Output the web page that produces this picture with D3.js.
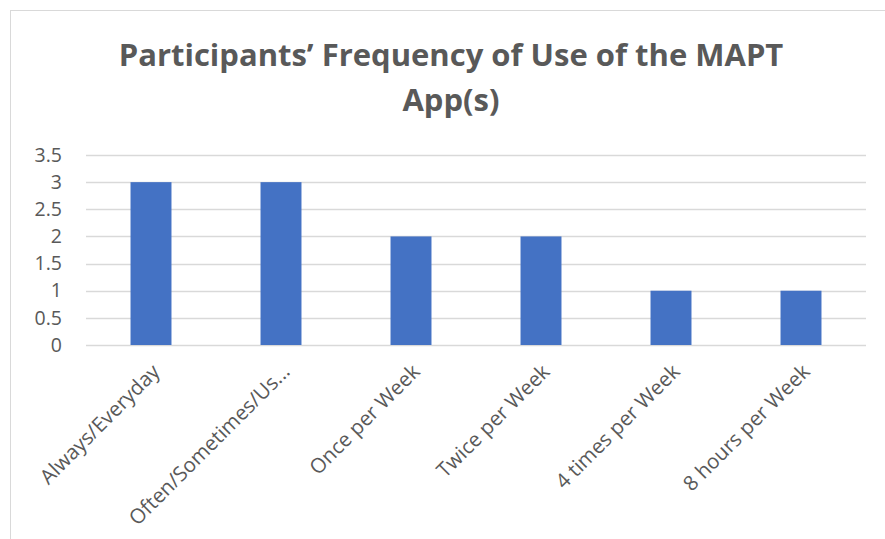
<!DOCTYPE html>
<html>
<head>
<meta charset="utf-8">
<script src="https://cdn.jsdelivr.net/npm/d3@7/dist/d3.min.js"></script>
<style>
  html, body { margin: 0; padding: 0; background: #fff; }
  svg { display: block; }
</style>
</head>
<body>
<svg id="chart" width="885" height="539"></svg>
<script>
// Frequency-of-use survey responses
const categories = ["Always/Everyday", "Often/Sometimes/Us...", "Once per Week", "Twice per Week", "4 times per Week", "8 hours per Week"];
const counts = [3, 3, 2, 2, 1, 1];
const yTicks = [0, 0.5, 1, 1.5, 2, 2.5, 3, 3.5];
const titleLines = ["Participants\u2019 Frequency of Use of the MAPT", "App(s)"];

const svg = d3.select("#chart");
const font = "'Open Sans', 'Noto Sans', sans-serif";
const textColor = "#595959";

// chart frame
svg.append("rect")
  .attr("x", 10.5).attr("y", 10.5)
  .attr("width", 900).attr("height", 600)
  .attr("fill", "none").attr("stroke", "#d9d9d9").attr("stroke-width", 1);

const plot = { left: 86, right: 866, top: 155, bottom: 345 };

const x = d3.scaleBand()
  .domain(categories)
  .range([plot.left, plot.right])
  .paddingInner(0.685)
  .paddingOuter(0.3425);

const y = d3.scaleLinear()
  .domain([0, 3.5])
  .range([plot.bottom, plot.top]);

// gridlines
svg.append("g")
  .selectAll("line")
  .data(yTicks)
  .join("line")
  .attr("x1", plot.left).attr("x2", plot.right)
  .attr("y1", d => Math.round(y(d)) + 0.5)
  .attr("y2", d => Math.round(y(d)) + 0.5)
  .attr("stroke", "#d9d9d9").attr("stroke-width", 1.3);

// y axis labels
const yAxis = d3.axisLeft(y).tickValues(yTicks).tickSize(0).tickPadding(0)
  .tickFormat(d => String(d));
svg.append("g")
  .attr("transform", `translate(${plot.left - 24},0)`)
  .call(yAxis)
  .call(g => g.select(".domain").remove())
  .call(g => g.selectAll("text")
    .attr("fill", textColor)
    .attr("font-family", font)
    .attr("font-size", 19.5));

// bars
svg.append("g")
  .selectAll("rect")
  .data(categories)
  .join("rect")
  .attr("x", d => x(d))
  .attr("width", x.bandwidth())
  .attr("y", (d, i) => y(counts[i]))
  .attr("height", (d, i) => y(0) - y(counts[i]))
  .attr("fill", "#4472c4");

// x axis labels, rotated
const xAxis = d3.axisBottom(x).tickSize(0).tickPadding(0);
svg.append("g")
  .attr("transform", `translate(0,${plot.bottom})`)
  .call(xAxis)
  .call(g => g.select(".domain").remove())
  .call(g => g.selectAll("text")
    .attr("fill", textColor)
    .attr("font-family", font)
    .attr("font-size", 20.5)
    .attr("text-anchor", "end")
    .attr("dy", null)
    .attr("y", 0)
    .attr("transform", "translate(10,28) rotate(-45)"));

// title
svg.append("text")
  .attr("x", 451)
  .attr("text-anchor", "middle")
  .attr("font-family", font)
  .attr("font-weight", "bold")
  .attr("font-size", 31)
  .attr("fill", textColor)
  .selectAll("tspan")
  .data(titleLines)
  .join("tspan")
  .attr("x", 451)
  .attr("y", (d, i) => 66 + i * 45)
  .text(d => d);
</script>
</body>
</html>
